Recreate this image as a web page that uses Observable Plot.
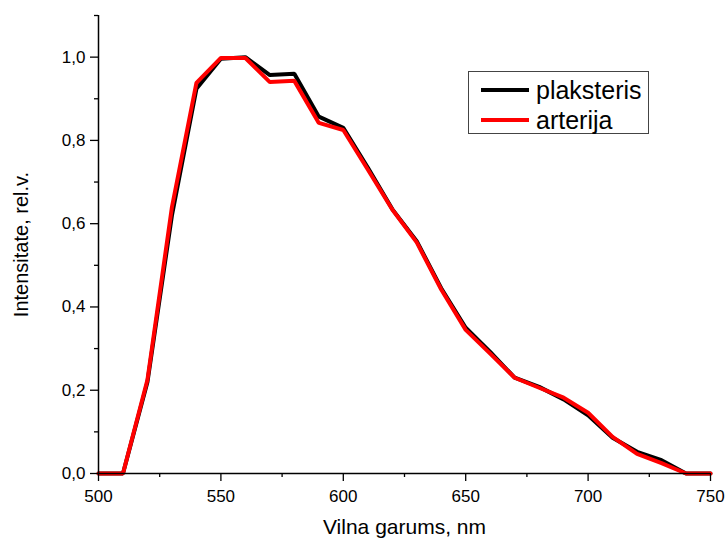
<!DOCTYPE html>
<html>
<head>
<meta charset="utf-8">
<script src="https://cdn.jsdelivr.net/npm/d3@7"></script>
<script src="https://cdn.jsdelivr.net/npm/@observablehq/plot@0.6"></script>
<style>
  html, body { margin: 0; padding: 0; background: #fff; }
  #wrap { position: relative; width: 728px; height: 540px; font-family: "Liberation Sans", Arial, sans-serif; }
  #legend { position: absolute; left: 468px; top: 71px; width: 181px; height: 63px; border: 1px solid #444; background: #fff; box-sizing: border-box; }
  .item { position: absolute; left: 12px; display: flex; align-items: center; font-size: 25px; line-height: 28px; color: #000; }
  .swatch { width: 48px; height: 4px; margin-right: 7px; }
</style>
</head>
<body>
<div id="wrap"></div>
<script>
const wavelengths = [500,510,520,530,540,550,560,570,580,590,600,610,620,630,640,650,660,670,680,690,700,710,720,730,740,750];
const plaksteris = [0,0,0.22,0.62,0.924,0.996,1.0,0.957,0.96,0.857,0.83,0.735,0.635,0.558,0.445,0.35,0.292,0.23,0.208,0.178,0.14,0.086,0.052,0.032,0,0];
const arterija   = [0,0,0.225,0.64,0.938,0.998,0.998,0.94,0.943,0.842,0.825,0.73,0.634,0.555,0.442,0.345,0.288,0.23,0.206,0.182,0.146,0.088,0.047,0.025,0,0];
const seriesNames = ["plaksteris", "arterija"];
const seriesColors = ["#000000", "#ff0000"];
const xMajor = [500,550,600,650,700,750];
const xMinor = [525,575,625,675,725];
const yMajor = [0,0.2,0.4,0.6,0.8,1.0];
const yMinor = [0.1,0.3,0.5,0.7,0.9,1.1];
const xLabel = "Vilna garums, nm";
const yLabel = "Intensitate, rel.v.";

const rows = [];
[plaksteris, arterija].forEach((vals, s) => {
  wavelengths.forEach((w, i) => rows.push({series: seriesNames[s], x: w, y: vals[i]}));
});
const fmt = d => d.toFixed(1).replace(".", ",");

const chart = Plot.plot({
  width: 728,
  height: 540,
  marginLeft: 98,
  marginRight: 18,
  marginTop: 15,
  marginBottom: 67,
  style: {fontFamily: "Liberation Sans, Arial, sans-serif", fontSize: "17px", color: "#000", background: "#fff", overflow: "visible"},
  x: {domain: [500, 750]},
  y: {domain: [0, 1.1]},
  marks: [
    Plot.line(rows.filter(r => r.series === "plaksteris"), {x: "x", y: "y", stroke: seriesColors[0], strokeWidth: 4, strokeLinejoin: "miter"}),
    Plot.line(rows.filter(r => r.series === "arterija"), {x: "x", y: "y", stroke: seriesColors[1], strokeWidth: 4, strokeLinejoin: "miter"}),
    Plot.axisY(yMajor, {tickSize: 8, tickFormat: () => "", label: null, strokeWidth: 1.3}),
    Plot.axisY(yMinor, {tickSize: 4, tickFormat: () => "", label: null, strokeWidth: 1.3}),
    Plot.axisX(xMajor, {tickSize: 8, tickFormat: () => "", label: null, strokeWidth: 1.3}),
    Plot.axisX(xMinor, {tickSize: 4, tickFormat: () => "", label: null, strokeWidth: 1.3}),
    Plot.text(yMajor, {y: d => d, text: fmt, frameAnchor: "left", dx: -13, textAnchor: "end", lineAnchor: "middle", fontSize: 17, fill: "#000"}),
    Plot.text(xMajor, {x: d => d, text: d => String(d), frameAnchor: "bottom", dy: 23, textAnchor: "middle", lineAnchor: "middle", fontSize: 17, fill: "#000"}),
    Plot.ruleX([500], {stroke: "#000", strokeWidth: 1.5}),
    Plot.ruleY([0], {stroke: "#000", strokeWidth: 1.5}),
    Plot.text([xLabel], {text: d => d, frameAnchor: "bottom", dy: 54, textAnchor: "middle", lineAnchor: "middle", fontSize: 21, fill: "#000"}),
    Plot.text([yLabel], {text: d => d, frameAnchor: "left", dx: -77, rotate: -90, textAnchor: "middle", lineAnchor: "middle", fontSize: 20, fill: "#000"})
  ]
});

const wrap = document.getElementById("wrap");
wrap.appendChild(chart);
const legend = document.createElement("div");
legend.id = "legend";
seriesNames.forEach((name, i) => {
  const item = document.createElement("div");
  item.className = "item";
  item.style.top = (i === 0 ? 4 : 34) + "px";
  const sw = document.createElement("div");
  sw.className = "swatch";
  sw.style.background = seriesColors[i];
  const t = document.createElement("span");
  t.textContent = name;
  item.appendChild(sw);
  item.appendChild(t);
  legend.appendChild(item);
});
wrap.appendChild(legend);
</script>
</body>
</html>
